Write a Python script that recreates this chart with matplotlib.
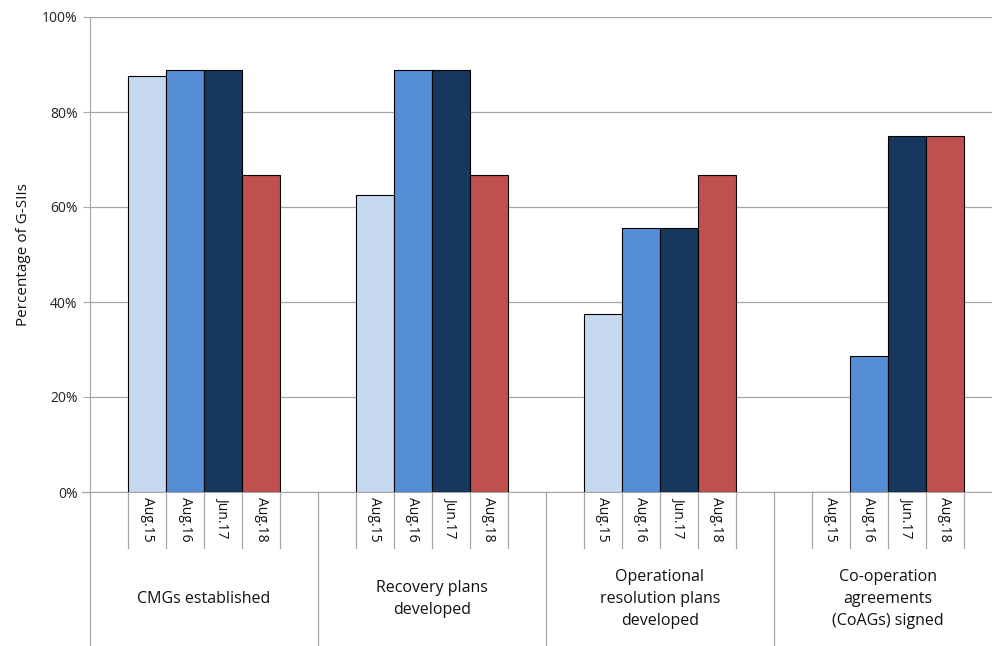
import matplotlib
matplotlib.use("Agg")
import matplotlib.pyplot as plt
import numpy as np

plt.rcParams['font.family'] = ['Open Sans', 'DejaVu Sans']

groups = ["CMGs established", "Recovery plans\ndeveloped",
          "Operational\nresolution plans\ndeveloped",
          "Co-operation\nagreements\n(CoAGs) signed"]
periods = ["Aug.15", "Aug.16", "Jun.17", "Aug.18"]
# percentage of G-SIIs per group, one list per period
aug15 = [87.5, 62.5, 37.5, 0.0]
aug16 = [88.9, 88.9, 55.6, 28.6]
jun17 = [88.9, 88.9, 55.6, 75.0]
aug18 = [66.7, 66.7, 66.7, 75.0]
series = [aug15, aug16, jun17, aug18]
colors = ["#C6D9F1", "#558ED5", "#17375E", "#C0504D"]

W, H = 992, 646
fig = plt.figure(figsize=(W / 100, H / 100), dpi=100)
ax = fig.add_axes([90 / W, (H - 492) / H, (W - 90) / W, 475 / H])

bw = 1 / 6
grid_c = "#A6A6A6"
for j, vals in enumerate(series):
    xs = np.arange(len(groups)) + (j + 1.5) * bw
    ax.bar(xs, vals, width=bw, color=colors[j], edgecolor="black", linewidth=0.8, zorder=3)

ax.set_ylim(0, 100)
ax.set_xlim(0, (W - 90) / 228)
ax.set_yticks(np.arange(0, 101, 20))
ax.set_yticklabels([f"{v}%" for v in range(0, 101, 20)], fontsize=10, color="#222222")
ax.yaxis.grid(True, color=grid_c, linewidth=0.9, zorder=0)
ax.tick_params(axis="y", length=5, color=grid_c, pad=4)
ax.set_xticks([])
for s in ["top", "right"]:
    ax.spines[s].set_visible(False)
ax.spines["left"].set_color(grid_c)
ax.spines["bottom"].set_color(grid_c)
ax.set_ylabel("Percentage of G-SIIs", fontsize=11, color="#111111", labelpad=8)

# category axis below the plot
tr = ax.get_xaxis_transform()
ax.plot([0, 0], [0, -0.33], transform=tr, color=grid_c, lw=0.9, clip_on=False)
ax.plot([-8 / 228, 0], [0, 0], transform=tr, color=grid_c, lw=0.9, clip_on=False)
for i, g in enumerate(groups):
    if i > 0:
        ax.plot([i, i], [0, -0.33], transform=tr, color=grid_c, lw=0.9, clip_on=False)
    for k in range(5):
        xk = i + (k + 1) * bw
        ax.plot([xk, xk], [0, -0.118], transform=tr, color=grid_c, lw=0.9, clip_on=False)
    for j, p in enumerate(periods):
        ax.text(i + (j + 1.5) * bw, -0.01, p, transform=tr, rotation=270,
                ha="center", va="top", fontsize=10, color="#111111")
    ax.text(i + 0.5, -0.226, g, transform=tr, ha="center", va="center",
            fontsize=11.5, color="#111111", linespacing=1.5)

fig.savefig("out.png", dpi=100)
